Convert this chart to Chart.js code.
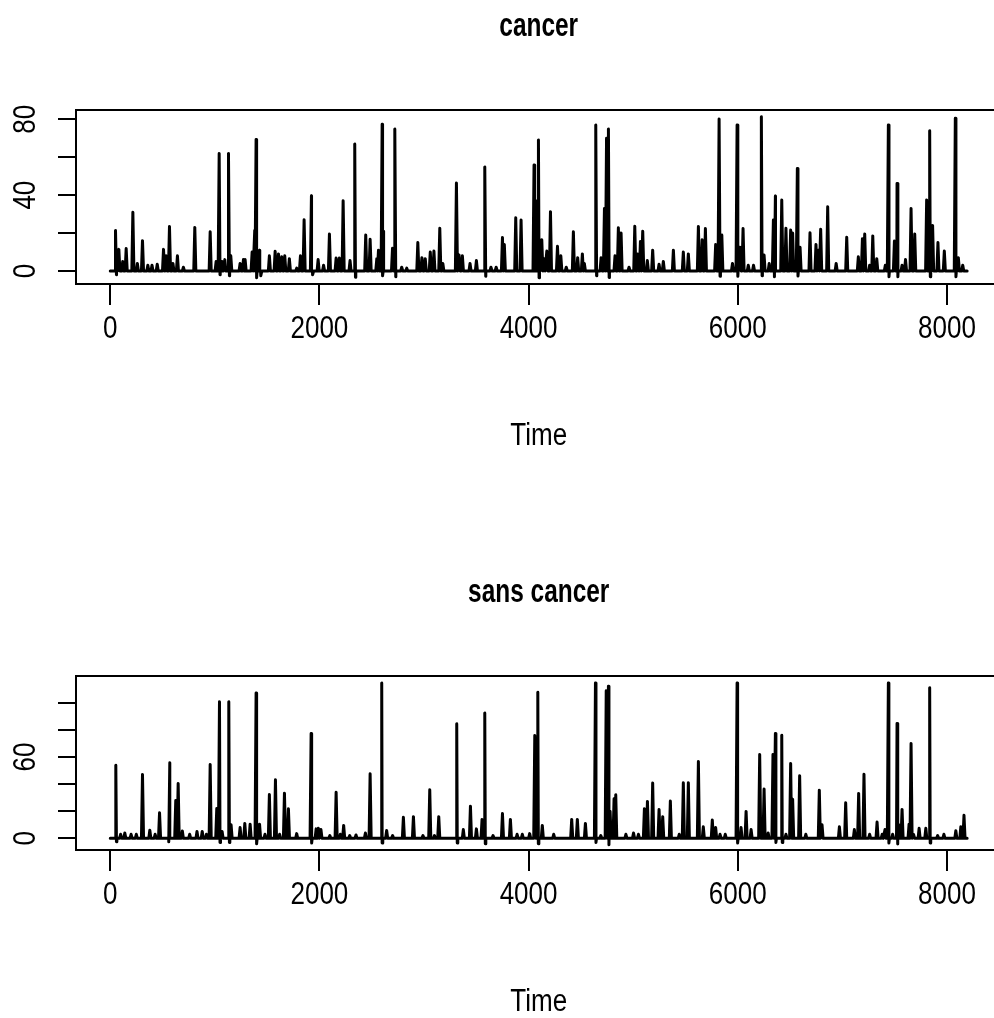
<!DOCTYPE html>
<html><head><meta charset="utf-8">
<script src="https://cdn.jsdelivr.net/npm/chart.js@4.4.1/dist/chart.umd.min.js"></script>
<style>
html,body{margin:0;padding:0;background:#fff;overflow:hidden;width:994px;height:1018px;position:relative;}
#c1{position:absolute;left:0;top:0;}
#c2{position:absolute;left:0;top:566px;}
</style></head><body>
<canvas id="c1" width="1010" height="566"></canvas>
<canvas id="c2" width="1010" height="452"></canvas>
<script>
// ---- data ----
const xTicks = [0, 2000, 4000, 6000, 8000];
const xTitle = 'Time';
const timeStart = 1, timeEnd = 8192;

// "cancer" series: spike times and values (negatives are small dips)
const cancerTimes = [51,83,120,153,217,260,309,360,400,450,510,535,567,600,643,700,809,956,1013,1042,1070,1096,1131,1153,1242,1274,1290,1357,1382,1395,1428,1522,1577,1609,1640,1669,1713,1783,1819,1854,1924,1988,2040,2096,2160,2191,2227,2293,2338,2443,2485,2549,2565,2600,2613,2699,2721,2787,2835,2941,2980,3012,3060,3095,3151,3180,3310,3335,3367,3440,3501,3581,3640,3690,3750,3768,3877,3928,4052,4068,4094,4126,4148,4174,4209,4276,4308,4360,4428,4469,4514,4533,4642,4693,4725,4745,4763,4826,4858,4884,4960,5015,5043,5069,5091,5135,5186,5247,5288,5384,5479,5527,5623,5659,5690,5788,5821,5847,5949,5993,6021,6050,6100,6150,6225,6251,6300,6340,6359,6420,6460,6505,6524,6569,6595,6690,6747,6770,6792,6859,6940,7041,7152,7191,7213,7260,7290,7328,7410,7439,7497,7522,7570,7603,7656,7691,7805,7834,7862,7913,7974,8079,8108,8150,
  60,1050,1140,1400,1440,1935,2345,2605,2730,3590,4100,4650,4770,5830,6000,6232,6350,6575,7445,7530,7840,8085];
const cancerValues = [21.3,11.4,5,11.8,31,4,16,3,3,3.5,11.4,8,23.4,4,8,2,23,20.7,5,62,5,6,62,8,4,6,6,10,21.4,69.3,11,8,10.4,9,7.5,8,6.5,1.5,8,27,39.7,6,3,19.5,6.8,6.8,37,5.5,67,19,16.7,6.5,11,77.4,21,12,74.9,2,1.5,15,7,6.5,10,10.5,22.5,4,46.4,8.5,8,4,5.5,54.9,2,2,17.6,14,28.1,26.9,55.9,37,69.1,16.5,6.5,10.5,31.3,13,8,2,20.7,7,9,4,77,7,33,70,74.9,8,22.8,20,2,23.6,9,15.5,21,5.5,11,3.5,5,11,10,9,23.4,16.5,22.4,14,80.2,19,4,77,12.5,22.4,3,3,81.4,8.4,4,26.9,39.6,37.4,22.5,21.6,20,54,12.5,20.2,14,11,22,33.9,4,17.8,7.5,17,19.5,3,18.5,6.5,3,77,15.8,46.2,3,6,33,19.5,37.5,74,24,15,10.5,80.5,7,3,
  -2,-2,-2.5,-3.5,-2.5,-2,-3.3,-2.5,-3,-2.8,-3.5,-2.5,-3.4,-2.8,-2.8,-2.5,-3,-2.7,-3,-3,-3,-3];
const cancerYTicks = [0, 20, 40, 60, 80];
const cancerYLabels = [0, 40, 80];

// "sans cancer" series
const sansTimes = [54,100,140,200,250,309,379,430,472,570,627,650,690,760,830,880,920,956,1019,1045,1070,1134,1156,1242,1287,1338,1395,1428,1480,1522,1580,1620,1666,1704,1783,1921,1969,1990,2015,2100,2160,2200,2232,2290,2350,2440,2485,2596,2643,2700,2803,2899,2990,3055,3100,3141,3313,3376,3444,3501,3555,3581,3660,3750,3826,3890,3940,4010,4059,4088,4131,4240,4412,4466,4543,4639,4690,4742,4763,4779,4817,4833,4930,5003,5050,5107,5136,5186,5247,5282,5355,5440,5479,5527,5623,5670,5756,5788,5830,5880,5993,6031,6079,6127,6209,6251,6290,6336,6359,6420,6460,6505,6524,6591,6650,6779,6805,6971,7031,7114,7155,7206,7260,7331,7380,7407,7439,7480,7522,7540,7570,7637,7656,7680,7733,7797,7834,7910,7970,8084,8132,8162,
  60,560,1050,1140,1400,1926,2600,3318,3586,4093,4644,4768,5998,6364,6425,7444,7527,7839];
const sansValues = [54,3,4,3,3,47.2,6,3,18.9,55.8,28,40.5,5.5,3,5,5,3,54.6,22,100.8,5,100.8,10,8,11,10.5,107.4,10.5,3,32.4,43.2,3,33.4,21.9,3.5,77.4,7,7.5,6.5,2,34.1,3,9.5,2,2.5,4,47.7,114.8,5.8,2,15.5,16,2,35.9,2,16,84.6,6.5,23.8,7,14,92.6,2,18.4,14,3,3,3.5,76,107.9,9.5,3,14,14,11,114.8,2,109,112.3,20,29.2,32.2,3,4,3,21.8,27.3,40.8,21.3,16,27.5,3,41,41,56.8,8.5,13.5,8,3,3,114.8,8,19.9,6.5,61.9,36.4,4,62,77.4,76.2,3,55.3,28.8,46.2,3,35.6,10,8.5,26.3,6.5,33.2,47.4,3,12,3,6.5,114.8,3,84.8,10,21.4,10.5,70,3,7.4,7.4,111.3,2,3,5.7,8.6,17,
  -2.5,-2.5,-3,-3,-4,-3.5,-3.5,-3.5,-4,-4,-3,-4.7,-3.5,-3,-3,-3.5,-4.2,-3.5];
const sansYTicks = [0, 20, 40, 60, 80, 100];
const sansYLabels = [0, 60];

// ---- rendering ----
const FONT = '"Liberation Sans", Arial, Helvetica, sans-serif';
Chart.defaults.font.family = FONT;
Chart.defaults.color = '#000';

function buildSeries(times, values) {
  const half = 10;
  const pts = [{x: timeStart, y: 0}, {x: timeEnd, y: 0}];
  times.forEach((t, i) => {
    pts.push({x: t - half, y: 0}, {x: t, y: values[i]}, {x: t + half, y: 0});
  });
  pts.sort((a, b) => a.x - b.x);
  return pts;
}

// condensed text, like the R raster device output
function narrowText(ctx, text, x, y, font, sx, rot) {
  ctx.save();
  ctx.translate(x, y);
  if (rot) ctx.rotate(rot);
  ctx.scale(sx, 1);
  ctx.font = font;
  ctx.textAlign = 'center';
  ctx.textBaseline = 'middle';
  ctx.fillStyle = '#000';
  ctx.fillText(text, 0, 0);
  ctx.restore();
}

const rPlot = {
  id: 'rPlot',
  afterDraw(chart, args, opts) {
    const ctx = chart.ctx, a = chart.chartArea;
    ctx.save();
    ctx.strokeStyle = '#000';
    ctx.lineWidth = 2;
    ctx.strokeRect(a.left, a.top, a.right - a.left, a.bottom - a.top);
    ctx.restore();
    const cx = (a.left + a.right) / 2;
    narrowText(ctx, opts.title, cx, 27, 'bold 33px ' + FONT, 0.74);
    const xs = chart.scales.x, ys = chart.scales.y;
    xTicks.forEach(v => narrowText(ctx, String(v), xs.getPixelForValue(v), a.bottom + 45, '31px ' + FONT, 0.84));
    narrowText(ctx, xTitle, cx, a.bottom + 152, '31px ' + FONT, 0.84);
    opts.yLabels.forEach(v => narrowText(ctx, String(v), 26, ys.getPixelForValue(v), '31px ' + FONT, 0.84, -Math.PI / 2));
  }
};

function makeChart(id, times, values, yTicks, yLabels, yMin, yMax, title, H) {
  return new Chart(document.getElementById(id), {
    type: 'line',
    data: {datasets: [{
      data: buildSeries(times, values),
      borderColor: '#000', borderWidth: 3, pointRadius: 0, tension: 0,
      fill: false, borderJoinStyle: 'round', borderCapStyle: 'round'
    }]},
    options: {
      responsive: false, animation: false, devicePixelRatio: 1,
      layout: {padding: {left: 58, top: 110, right: 8.6, bottom: H - 284 - 168}},
      plugins: {legend: {display: false}, tooltip: {enabled: false}, title: {display: false},
        rPlot: {title: title, yLabels: yLabels}},
      scales: {
        x: {
          type: 'linear', min: -326.6, max: 8519.6,
          afterBuildTicks: s => { s.ticks = xTicks.map(v => ({value: v})); },
          afterFit: s => { s.height = 168; },
          ticks: {display: false},
          grid: {drawOnChartArea: false, drawTicks: true, tickLength: 21, tickColor: '#000', lineWidth: 2, color: '#000'},
          border: {display: false}
        },
        y: {
          type: 'linear', min: yMin, max: yMax,
          afterBuildTicks: s => { s.ticks = yTicks.map(v => ({value: v})); },
          afterFit: s => { s.width = 18; },
          ticks: {display: false},
          grid: {drawOnChartArea: false, drawTicks: true, tickLength: 18, tickColor: '#000', lineWidth: 2, color: '#000'},
          border: {display: false}
        }
      }
    },
    plugins: [rPlot]
  });
}

makeChart('c1', cancerTimes, cancerValues, cancerYTicks, cancerYLabels, -6.86, 84.9, 'cancer', 566);
makeChart('c2', sansTimes, sansValues, sansYTicks, sansYLabels, -8.6, 119.9, 'sans cancer', 452);
</script>
</body></html>
